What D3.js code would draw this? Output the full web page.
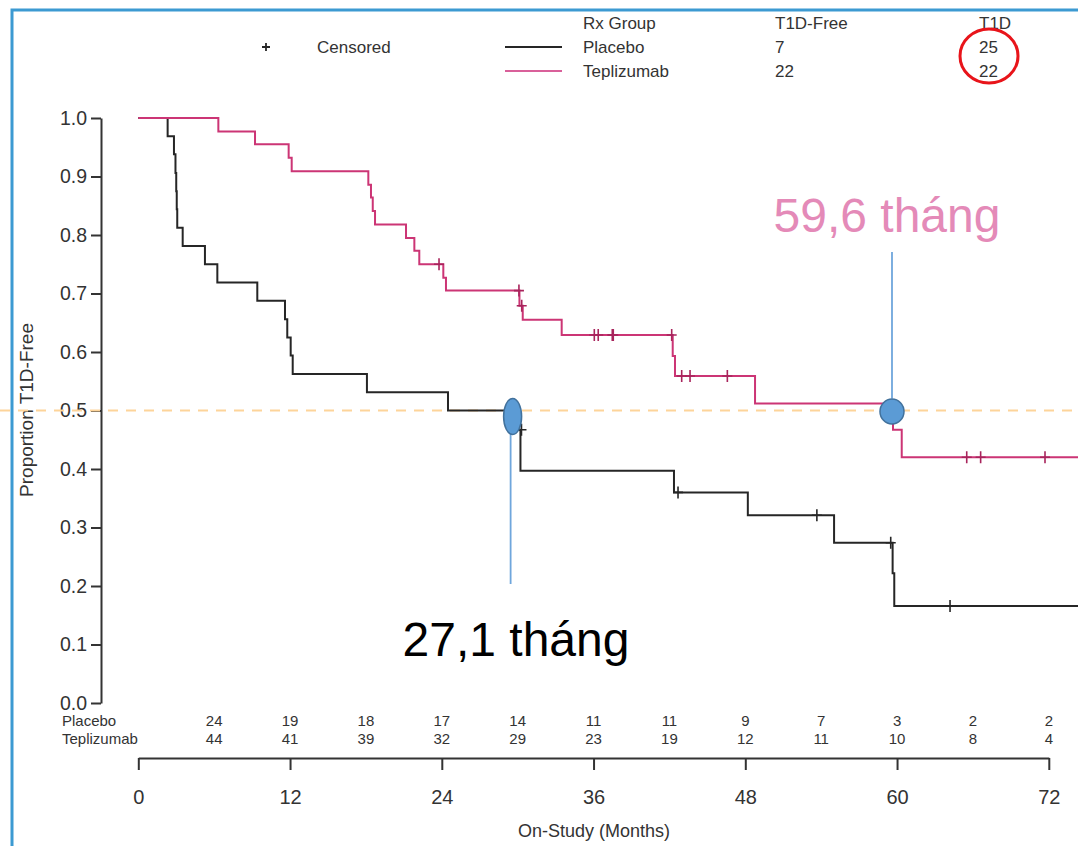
<!DOCTYPE html>
<html>
<head>
<meta charset="utf-8">
<script src="https://cdn.jsdelivr.net/npm/d3@7"></script>
<style>
  html, body { margin: 0; padding: 0; background: #fff; }
  svg { display: block; font-family: "Liberation Sans", Arial, sans-serif; }
</style>
</head>
<body>
<svg id="chart" width="1078" height="846"></svg>
<script>
// Kaplan-Meier: proportion T1D-free by treatment group
const groups = ["Placebo", "Teplizumab"];
const t1dFree = [7, 22];
const t1dCount = [25, 22];

// [month, proportion after the step]
const placeboSteps = [
  [0, 1.0], [2.32, 0.969], [2.82, 0.938], [2.94, 0.906], [3.0, 0.875], [3.04, 0.844],
  [3.08, 0.8125], [3.51, 0.781], [5.27, 0.75], [6.25, 0.719], [9.41, 0.6875],
  [11.6, 0.656], [11.78, 0.625], [12.05, 0.594], [12.21, 0.5625], [18.08, 0.531],
  [24.49, 0.5], [29.95, 0.467], [30.22, 0.397], [42.36, 0.36], [48.2, 0.321],
  [55.02, 0.274], [59.65, 0.222], [59.78, 0.166], [75, 0.166]
];
const teplizumabSteps = [
  [0, 1.0], [6.33, 0.977], [9.23, 0.955], [11.89, 0.932], [12.13, 0.909],
  [18.19, 0.886], [18.4, 0.864], [18.54, 0.841], [18.72, 0.818], [21.17, 0.795],
  [21.83, 0.773], [22.22, 0.75], [24.12, 0.727], [24.33, 0.705], [30.14, 0.679],
  [30.4, 0.655], [33.48, 0.629], [42.26, 0.593], [42.44, 0.559], [48.77, 0.512],
  [59.68, 0.467], [60.37, 0.42], [75, 0.42]
];
// censored observations [month, proportion]
const placeboCensored = [[30.3, 0.467], [42.68, 0.36], [53.66, 0.321], [59.5, 0.274], [64.19, 0.166]];
const teplizumabCensored = [
  [23.78, 0.75], [30.1, 0.705], [30.32, 0.679], [36.06, 0.629], [36.37, 0.629],
  [37.48, 0.629], [37.56, 0.629], [42.18, 0.629], [42.97, 0.559], [43.63, 0.559],
  [46.58, 0.559], [65.51, 0.42], [66.61, 0.42], [71.7, 0.42]
];

// number at risk
const riskMonths = [6, 12, 18, 24, 30, 36, 42, 48, 54, 60, 66, 72];
const placeboAtRisk = [24, 19, 18, 17, 14, 11, 11, 9, 7, 3, 2, 2];
const teplizumabAtRisk = [44, 41, 39, 32, 29, 23, 19, 12, 11, 10, 8, 4];

const xTicks = [0, 12, 24, 36, 48, 60, 72];
const yTicks = [0, 0.1, 0.2, 0.3, 0.4, 0.5, 0.6, 0.7, 0.8, 0.9, 1.0];

// median annotations
const medianMarkers = [
  { month: 29.6, value: 0.5, label: "27,1 tháng" },
  { month: 59.6, value: 0.5, label: "59,6 tháng" }
];

const svg = d3.select("#chart");
const W = 1078, H = 846;

const x = d3.scaleLinear().domain([0, 72]).range([138.3, 1048.8]);
const y = d3.scaleLinear().domain([0, 1]).range([703, 118]);

const axisColor = "#333";
const pink = "#CC3575";
const pinkDark = "#A8245C";
const black = "#262626";

svg.append("rect").attr("width", W).attr("height", H).attr("fill", "#fff");

// frame
svg.append("path")
  .attr("d", `M12,${H} L12,10 L${W},10`)
  .attr("fill", "none").attr("stroke", "#3C9AD2").attr("stroke-width", 3);

// y axis
const yAxis = svg.append("g")
  .attr("transform", "translate(101,0)")
  .call(d3.axisLeft(y).tickValues(yTicks).tickFormat(d3.format(".1f")).tickSize(10).tickSizeOuter(0).tickPadding(4));
yAxis.select(".domain").attr("stroke", axisColor).attr("stroke-width", 2);
yAxis.selectAll(".tick line").attr("stroke", axisColor).attr("stroke-width", 2);
yAxis.selectAll(".tick text").attr("fill", axisColor).attr("font-size", 19.5)
  .attr("font-family", "Liberation Sans, Arial, sans-serif");

// x axis
const xAxis = svg.append("g")
  .attr("transform", "translate(0,758)")
  .call(d3.axisBottom(x).tickValues(xTicks).tickFormat(d3.format("d")).tickSize(12).tickSizeOuter(0).tickPadding(20));
xAxis.select(".domain").attr("stroke", axisColor).attr("stroke-width", 2);
xAxis.selectAll(".tick line").attr("stroke", axisColor).attr("stroke-width", 2);
xAxis.selectAll(".tick text").attr("fill", axisColor).attr("font-size", 20)
  .attr("font-family", "Liberation Sans, Arial, sans-serif");

// axis titles
svg.append("text")
  .attr("x", 594).attr("y", 837).attr("text-anchor", "middle")
  .attr("font-size", 18).attr("fill", axisColor)
  .text("On-Study (Months)");
svg.append("text")
  .attr("transform", "translate(26,410) rotate(-90)")
  .attr("text-anchor", "middle").attr("dy", "0.35em")
  .attr("font-size", 19).attr("fill", axisColor)
  .text("Proportion T1D-Free");

// 50% reference line
svg.append("line")
  .attr("x1", 0).attr("x2", W).attr("y1", y(0.5)).attr("y2", y(0.5))
  .attr("stroke", "#FDD49A").attr("stroke-width", 2).attr("stroke-dasharray", "10,8");

// survival curves
const stepLine = d3.line().x(d => x(d[0])).y(d => y(d[1])).curve(d3.curveStepAfter);
const curves = svg.append("g");
curves.append("path").datum(placeboSteps)
  .attr("d", stepLine).attr("fill", "none").attr("stroke", black).attr("stroke-width", 2);
curves.append("path").datum(teplizumabSteps)
  .attr("d", stepLine).attr("fill", "none").attr("stroke", pink).attr("stroke-width", 2);

// censor marks
function plus(sel, data, color) {
  sel.selectAll(null).data(data).enter().append("path")
    .attr("d", d => {
      const cx = x(d[0]), cy = y(d[1]);
      return `M${cx},${cy - 6}V${cy + 6}M${cx - 5},${cy}H${cx + 5}`;
    })
    .attr("stroke", color).attr("stroke-width", 1.6).attr("fill", "none");
}
plus(curves, placeboCensored, black);
plus(curves, teplizumabCensored, pinkDark);

// median annotations
const ann = svg.append("g");
const m0 = medianMarkers[0], m1 = medianMarkers[1];
ann.append("line")
  .attr("x1", x(m0.month) - 2).attr("x2", x(m0.month) - 2)
  .attr("y1", y(m0.value) + 18).attr("y2", 584)
  .attr("stroke", "#6FA6DC").attr("stroke-width", 1.8);
ann.append("ellipse")
  .attr("cx", x(m0.month)).attr("cy", y(m0.value) + 6).attr("rx", 9).attr("ry", 18)
  .attr("fill", "#5B9BD5").attr("stroke", "#41719C").attr("stroke-width", 1.5);
ann.append("text")
  .attr("x", 516).attr("y", 656).attr("text-anchor", "middle")
  .attr("font-size", 48).attr("fill", "#000")
  .text(m0.label);

ann.append("line")
  .attr("x1", x(m1.month)).attr("x2", x(m1.month))
  .attr("y1", 252).attr("y2", y(m1.value) - 12)
  .attr("stroke", "#6FA6DC").attr("stroke-width", 1.8);
ann.append("ellipse")
  .attr("cx", x(m1.month)).attr("cy", y(m1.value) + 1).attr("rx", 12).attr("ry", 12.5)
  .attr("fill", "#5B9BD5").attr("stroke", "#41719C").attr("stroke-width", 1.5);
ann.append("text")
  .attr("x", 887).attr("y", 232).attr("text-anchor", "middle")
  .attr("font-size", 48).attr("fill", "#E48AB8")
  .text(m1.label);

// number at risk table
const risk = svg.append("g").attr("font-size", 15).attr("fill", axisColor);
[[groups[0], placeboAtRisk, 720.5], [groups[1], teplizumabAtRisk, 739]].forEach(([name, vals, ry]) => {
  risk.append("text").attr("x", 62).attr("y", ry).attr("dy", "0.35em").text(name);
  risk.selectAll(null).data(vals).enter().append("text")
    .attr("x", (d, i) => x(riskMonths[i])).attr("y", ry).attr("dy", "0.35em")
    .attr("text-anchor", "middle").text(d => d);
});

// legend
const leg = svg.append("g").attr("font-size", 17).attr("fill", axisColor);
leg.append("path")
  .attr("d", "M266,43V51M262,47H270")
  .attr("stroke", black).attr("stroke-width", 1.8);
leg.append("text").attr("x", 317).attr("y", 47).attr("dy", "0.35em").text("Censored");
leg.append("line").attr("x1", 505).attr("x2", 562).attr("y1", 47).attr("y2", 47)
  .attr("stroke", black).attr("stroke-width", 2);
leg.append("line").attr("x1", 505).attr("x2", 562).attr("y1", 71).attr("y2", 71)
  .attr("stroke", "#D9609A").attr("stroke-width", 2);
leg.append("text").attr("x", 583).attr("y", 23).attr("dy", "0.35em").text("Rx Group");
leg.append("text").attr("x", 775).attr("y", 23).attr("dy", "0.35em").text("T1D-Free");
leg.append("text").attr("x", 979).attr("y", 23).attr("dy", "0.35em").text("T1D");
groups.forEach((g, i) => {
  const ry = 47 + i * 24;
  leg.append("text").attr("x", 583).attr("y", ry).attr("dy", "0.35em").text(g);
  leg.append("text").attr("x", 775).attr("y", ry).attr("dy", "0.35em").text(t1dFree[i]);
  leg.append("text").attr("x", 979).attr("y", ry).attr("dy", "0.35em").text(t1dCount[i]);
});
svg.append("ellipse")
  .attr("cx", 989).attr("cy", 56).attr("rx", 29).attr("ry", 27)
  .attr("fill", "none").attr("stroke", "#E8141A").attr("stroke-width", 3);
</script>
</body>
</html>
